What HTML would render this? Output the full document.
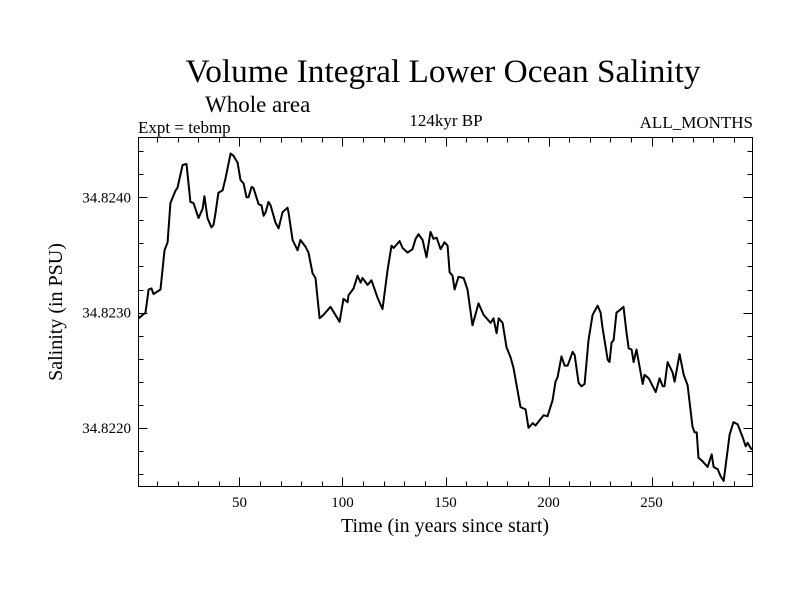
<!DOCTYPE html>
<html><head><meta charset="utf-8"><style>
body{margin:0;background:#fff}
svg{display:block;font-family:"Liberation Serif",serif}
</style></head><body>
<svg id="chart" width="800" height="600" viewBox="0 0 800 600">
<text x="443" y="82" font-size="33" text-anchor="middle" textLength="515" lengthAdjust="spacingAndGlyphs">Volume Integral Lower Ocean Salinity</text>
<text x="205" y="112" font-size="23">Whole area</text>
<text x="138" y="133" font-size="17">Expt = tebmp</text>
<text x="446" y="126" font-size="17" text-anchor="middle">124kyr BP</text>
<text x="753" y="128" font-size="17" text-anchor="end">ALL_MONTHS</text>
<text x="445" y="532" font-size="20" text-anchor="middle">Time (in years since start)</text>
<text transform="translate(62,312) rotate(-90)" font-size="20" text-anchor="middle">Salinity (in PSU)</text>
<g id="axes"></g>
<g id="series"></g>
<rect x="138.5" y="137.5" width="614" height="349" fill="none" stroke="#000" stroke-width="1"/>
</svg>
<script>
const years=[1.0,4.4,5.9,7.3,8.3,11.7,13.6,15.1,16.5,19.0,19.9,22.4,24.3,26.2,27.7,30.1,32.1,33.0,34.5,36.4,37.4,38.4,39.8,41.8,43.2,45.7,47.1,49.1,50.5,52.0,53.4,54.4,55.9,56.8,59.3,60.7,61.7,62.7,64.1,65.1,67.5,69.0,70.9,73.3,73.8,75.8,78.2,79.6,82.1,83.5,85.5,86.9,88.9,90.8,94.2,98.6,100.5,102.5,102.9,105.4,107.3,108.8,109.7,112.2,114.1,117.0,119.4,121.9,123.8,124.8,127.7,129.2,131.6,134.0,135.5,136.9,138.9,140.8,142.7,144.2,145.7,147.6,149.5,151.0,152.0,153.4,154.4,156.3,158.8,160.7,163.1,166.0,168.5,171.9,173.3,174.8,175.8,177.7,179.6,181.6,183.0,186.4,188.9,190.3,192.3,193.7,197.6,199.5,202.0,203.4,204.4,206.3,207.8,209.3,211.7,212.7,214.6,216.0,217.5,219.4,221.4,223.8,225.3,226.2,228.7,229.6,230.6,231.6,233.0,234.5,236.4,237.9,238.9,240.3,241.3,242.7,245.7,246.6,248.6,252.0,253.9,255.4,256.3,257.8,260.2,261.2,263.6,265.6,267.5,269.9,270.9,271.9,272.8,274.8,277.2,279.2,280.1,282.1,283.5,285.0,287.9,289.8,291.8,294.2,295.7,296.6,298.6];
const salinity=[34.82295,34.82300,34.82320,34.82321,34.82316,34.82320,34.82354,34.82361,34.82395,34.82406,34.82408,34.82428,34.82429,34.82396,34.82395,34.82382,34.82390,34.82401,34.82382,34.82374,34.82376,34.82387,34.82404,34.82406,34.82416,34.82438,34.82436,34.82430,34.82415,34.82412,34.82400,34.82400,34.82409,34.82408,34.82394,34.82393,34.82384,34.82387,34.82396,34.82393,34.82378,34.82373,34.82387,34.82391,34.82387,34.82363,34.82354,34.82363,34.82357,34.82352,34.82334,34.82330,34.82295,34.82298,34.82305,34.82292,34.82312,34.82309,34.82315,34.82321,34.82332,34.82326,34.82330,34.82324,34.82328,34.82313,34.82303,34.82337,34.82358,34.82356,34.82362,34.82356,34.82352,34.82355,34.82364,34.82368,34.82363,34.82348,34.82370,34.82364,34.82365,34.82355,34.82361,34.82358,34.82335,34.82332,34.82320,34.82331,34.82330,34.82320,34.82289,34.82308,34.82298,34.82291,34.82295,34.82282,34.82295,34.82291,34.82270,34.82261,34.82252,34.82218,34.82216,34.82200,34.82204,34.82202,34.82211,34.82210,34.82224,34.82240,34.82244,34.82262,34.82254,34.82254,34.82266,34.82263,34.82239,34.82236,34.82238,34.82276,34.82298,34.82306,34.82300,34.82287,34.82259,34.82257,34.82274,34.82276,34.82300,34.82302,34.82305,34.82282,34.82269,34.82268,34.82257,34.82268,34.82238,34.82246,34.82243,34.82231,34.82243,34.82236,34.82236,34.82257,34.82248,34.82240,34.82264,34.82246,34.82237,34.82201,34.82196,34.82196,34.82174,34.82171,34.82166,34.82177,34.82166,34.82164,34.82158,34.82154,34.82194,34.82205,34.82203,34.82192,34.82184,34.82187,34.82181];
const xTicks=[50,100,150,200,250];
const yTicks=[34.822,34.823,34.824];
const yTickLabels=["34.8220","34.8230","34.8240"];

const NS="http://www.w3.org/2000/svg";
const X0=138.5,X1=752.5,Y0=137.5,Y1=486.5;
const xMin=1,xMax=299,yMin=34.821491,yMax=34.824519;
function xs(v){return X0+(v-xMin)/(xMax-xMin)*(X1-X0);}
function ys(v){return Y1-(v-yMin)/(yMax-yMin)*(Y1-Y0);}
const axes=document.getElementById('axes');
function line(x1,y1,x2,y2,name){
  const l=document.createElementNS(NS,'line');
  l.setAttribute('x1',x1);l.setAttribute('y1',y1);l.setAttribute('x2',x2);l.setAttribute('y2',y2);
  l.setAttribute('stroke','#000');l.setAttribute('stroke-width','1');
  
  
  axes.appendChild(l);
}
function text(x,y,s,anchor,name){
  const t=document.createElementNS(NS,'text');
  t.setAttribute('x',x);t.setAttribute('y',y);t.setAttribute('font-size','15');
  t.setAttribute('text-anchor',anchor);t.textContent=s;
  
  
  axes.appendChild(t);
}
for(let v=10;v<=290;v+=10){
  const x=Math.round(xs(v))+0.5;const major=v%50===0;const len=major?9:5;
  line(x,Y1,x,Y1-len,'x-tick');
  line(x,Y0,x,Y0+len,'x-tick-top');
}
xTicks.forEach(v=>text(xs(v),507,String(v),'middle','x-tick-label'));
for(let i=0;i<16;i++){
  const v=34.8216+i*0.0002;const y=Math.round(ys(v))+0.5;
  if(y<Y0||y>Y1)continue;
  const major=Math.abs(Math.round(v*1000)-v*1000)<1e-6;const len=major?9:5;
  line(X0,y,X0+len,y,'y-tick');
  line(X1,y,X1-len,y,'y-tick-right');
}
yTicks.forEach((v,i)=>text(131,ys(v)+5,yTickLabels[i],'end','y-tick-label'));
const p=document.createElementNS(NS,'polyline');
p.setAttribute('points',years.map((y,i)=>xs(y).toFixed(1)+','+ys(salinity[i]).toFixed(1)).join(' '));
p.setAttribute('fill','none');p.setAttribute('stroke','#000');p.setAttribute('stroke-width','2');p.setAttribute('stroke-linejoin','round');


document.getElementById('series').appendChild(p);
</script>
</body></html>
